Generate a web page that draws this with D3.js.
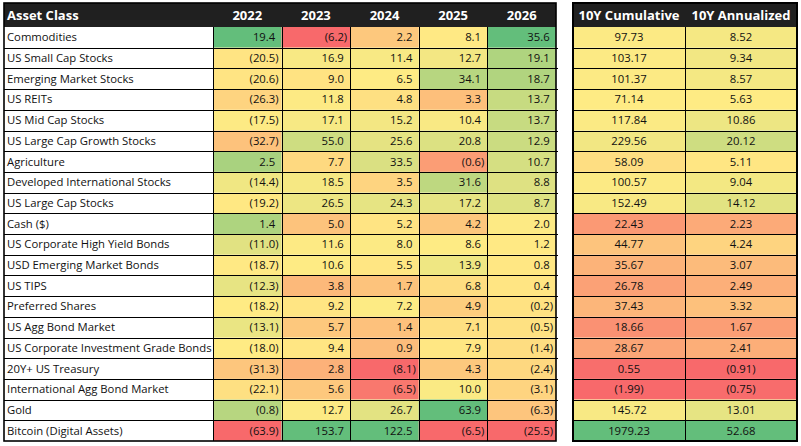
<!DOCTYPE html>
<html>
<head>
<meta charset="utf-8">
<script src="https://cdn.jsdelivr.net/npm/d3@7"></script>
<style>
body { margin: 0; background: #fff; }
svg { display: block; font-family: "Open Sans", sans-serif; }
</style>
</head>
<body>
<div id="chart"></div>
<script>
// -------------------- DATA ---------------------
const assetClasses = [
	"Commodities",
	"US Small Cap Stocks",
	"Emerging Market Stocks",
	"US REITs",
	"US Mid Cap Stocks",
	"US Large Cap Growth Stocks",
	"Agriculture",
	"Developed International Stocks",
	"US Large Cap Stocks",
	"Cash ($)",
	"US Corporate High Yield Bonds",
	"USD Emerging Market Bonds",
	"US TIPS",
	"Preferred Shares",
	"US Agg Bond Market",
	"US Corporate Investment Grade Bonds",
	"20Y+ US Treasury",
	"International Agg Bond Market",
	"Gold",
	"Bitcoin (Digital Assets)",
];
const yearLabels = ["2022", "2023", "2024", "2025", "2026"];
const summaryLabels = ["10Y Cumulative", "10Y Annualized"];

const r2022 = [19.4, -20.5, -20.6, -26.3, -17.5, -32.7, 2.5, -14.4, -19.2, 1.4, -11.0, -18.7, -12.3, -18.2, -13.1, -18.0, -31.3, -22.1, -0.8, -63.9];
const r2023 = [-6.2, 16.9, 9.0, 11.8, 17.1, 55.0, 7.7, 18.5, 26.5, 5.0, 11.6, 10.6, 3.8, 9.2, 5.7, 9.4, 2.8, 5.6, 12.7, 153.7];
const r2024 = [2.2, 11.4, 6.5, 4.8, 15.2, 25.6, 33.5, 3.5, 24.3, 5.2, 8.0, 5.5, 1.7, 7.2, 1.4, 0.9, -8.1, -6.5, 26.7, 122.5];
const r2025 = [8.1, 12.7, 34.1, 3.3, 10.4, 20.8, -0.6, 31.6, 17.2, 4.2, 8.6, 13.9, 6.8, 4.9, 7.1, 7.9, 4.3, 10.0, 63.9, -6.5];
const r2026 = [35.6, 19.1, 18.7, 13.7, 13.7, 12.9, 10.7, 8.8, 8.7, 2.0, 1.2, 0.8, 0.4, -0.2, -0.5, -1.4, -2.4, -3.1, -6.3, -25.5];
const cumulative10Y = [97.73, 103.17, 101.37, 71.14, 117.84, 229.56, 58.09, 100.57, 152.49, 22.43, 44.77, 35.67, 26.78, 37.43, 18.66, 28.67, 0.55, -1.99, 145.72, 1979.23];
const annualized10Y = [8.52, 9.34, 8.57, 5.63, 10.86, 20.12, 5.11, 9.04, 14.12, 2.23, 4.24, 3.07, 2.49, 3.32, 1.67, 2.41, -0.91, -0.75, 13.01, 52.68];

const yearCols = [r2022, r2023, r2024, r2025, r2026];
const summaryCols = [cumulative10Y, annualized10Y];

// -------------------- SETUP ---------------------
const size = { w: 801, h: 446 };
const svg = d3
	.select("#chart")
	.append("svg")
	.attr("width", size.w)
	.attr("height", size.h);

const headTop = 3;
const headBottom = 27;
const tableBottom = 441;
const leftX = 4;
const nameRight = 213;
const headSize = 13;
const cellSize = 11.3;

const y = d3
	.scaleBand()
	.domain(d3.range(assetClasses.length))
	.range([headBottom, tableBottom]);
const xYear = d3.scaleBand().domain(yearLabels).range([nameRight, 556]);
const xSum = d3.scaleBand().domain(summaryLabels).range([573, 797]);

// excel style 3 colour scale: min red, median yellow, max green
function heat(values) {
	const [lo, hi] = d3.extent(values);
	return d3
		.scaleLinear()
		.domain([lo, d3.quantile(values, 0.5), hi])
		.range(["#F8696B", "#FFEB84", "#63BE7B"]);
}

const fmt1 = d3.format(".1f");
const fmt2 = d3.format(".2f");

// -------------------- LEFT TABLE ---------------------
const leftG = svg.append("g").classed("left-table", true);

leftG
	.append("rect")
	.attr("x", leftX)
	.attr("y", headTop)
	.attr("width", 556 - leftX)
	.attr("height", headBottom - headTop)
	.attr("fill", "#202020");

leftG
	.append("text")
	.attr("x", leftX + 3)
	.attr("y", (headTop + headBottom) / 2 + 4.5)
	.attr("fill", "#fff")
	.attr("font-weight", "bold")
	.attr("font-size", headSize)
	.text("Asset Class");

leftG
	.selectAll("text.year-head")
	.data(yearLabels)
	.join("text")
	.classed("year-head", true)
	.attr("x", (d) => xYear(d) + xYear.bandwidth() / 2)
	.attr("y", (headTop + headBottom) / 2 + 4.5)
	.attr("text-anchor", "middle")
	.attr("fill", "#fff")
	.attr("font-weight", "bold")
	.attr("font-size", headSize)
	.text((d) => d);

// names
leftG
	.selectAll("text.name")
	.data(assetClasses)
	.join("text")
	.classed("name", true)
	.attr("x", leftX + 3)
	.attr("y", (d, i) => y(i) + y.bandwidth() / 2 + 4)
	.attr("font-size", cellSize)
	.attr("fill", "#111")
	.text((d) => d);

// year cells
yearCols.forEach((values, c) => {
	const color = heat(values);
	const x0 = xYear(yearLabels[c]);
	const cells = leftG
		.append("g")
		.selectAll("g")
		.data(values)
		.join("g");
	cells
		.append("rect")
		.attr("x", x0)
		.attr("y", (d, i) => y(i))
		.attr("width", xYear.bandwidth())
		.attr("height", y.bandwidth())
		.attr("fill", (d) => color(d));
	const label = cells
		.append("text")
		.attr("x", x0 + xYear.bandwidth() - 3)
		.attr("y", (d, i) => y(i) + y.bandwidth() / 2 + 4)
		.attr("text-anchor", "end")
		.attr("font-size", cellSize)
		.attr("fill", "#111");
	label.append("tspan").text((d) => (d < 0 ? "(" + fmt1(-d) : fmt1(d)));
	// accounting style: keep room for the ")" on positive numbers
	label
		.append("tspan")
		.attr("fill-opacity", (d) => (d < 0 ? 1 : 0))
		.text(")");
});

// grid
leftG
	.selectAll("line.row")
	.data(d3.range(1, assetClasses.length))
	.join("line")
	.classed("row", true)
	.attr("x1", leftX)
	.attr("x2", 558)
	.attr("y1", (d) => Math.round(y(d)) + 0.5)
	.attr("y2", (d) => Math.round(y(d)) + 0.5)
	.attr("stroke", "#000");

leftG
	.selectAll("line.col")
	.data([nameRight].concat(yearLabels.slice(1).map((d) => xYear(d))))
	.join("line")
	.classed("col", true)
	.attr("x1", (d) => Math.round(d) + 0.5)
	.attr("x2", (d) => Math.round(d) + 0.5)
	.attr("y1", headBottom)
	.attr("y2", tableBottom)
	.attr("stroke", "#000");

leftG
	.append("rect")
	.attr("x", leftX)
	.attr("y", headTop)
	.attr("width", 556 - leftX)
	.attr("height", tableBottom - headTop)
	.attr("fill", "none")
	.attr("stroke", "#000")
	.attr("stroke-width", 1.6);

// -------------------- RIGHT TABLE ---------------------
const rightG = svg.append("g").classed("right-table", true);

rightG
	.append("rect")
	.attr("x", 573)
	.attr("y", headTop)
	.attr("width", 797 - 573)
	.attr("height", headBottom - headTop)
	.attr("fill", "#202020");

rightG
	.selectAll("text.sum-head")
	.data(summaryLabels)
	.join("text")
	.classed("sum-head", true)
	.attr("x", (d) => xSum(d) + xSum.bandwidth() / 2)
	.attr("y", (headTop + headBottom) / 2 + 4.5)
	.attr("text-anchor", "middle")
	.attr("fill", "#fff")
	.attr("font-weight", "bold")
	.attr("font-size", headSize)
	.text((d) => d);

summaryCols.forEach((values, c) => {
	const color = heat(values);
	const x0 = xSum(summaryLabels[c]);
	const cells = rightG
		.append("g")
		.selectAll("g")
		.data(values)
		.join("g");
	cells
		.append("rect")
		.attr("x", x0)
		.attr("y", (d, i) => y(i))
		.attr("width", xSum.bandwidth())
		.attr("height", y.bandwidth())
		.attr("fill", (d) => color(d));
	cells
		.append("text")
		.attr("x", x0 + xSum.bandwidth() / 2)
		.attr("y", (d, i) => y(i) + y.bandwidth() / 2 + 4)
		.attr("text-anchor", "middle")
		.attr("font-size", cellSize)
		.attr("fill", "#111")
		.text((d) => (d < 0 ? "(" + fmt2(-d) + ")" : fmt2(d)));
});

rightG
	.selectAll("line.row")
	.data(d3.range(1, assetClasses.length))
	.join("line")
	.classed("row", true)
	.attr("x1", 573)
	.attr("x2", 797)
	.attr("y1", (d) => Math.round(y(d)) + 0.5)
	.attr("y2", (d) => Math.round(y(d)) + 0.5)
	.attr("stroke", "#000");

rightG
	.append("line")
	.attr("x1", Math.round(xSum(summaryLabels[1])) + 0.5)
	.attr("x2", Math.round(xSum(summaryLabels[1])) + 0.5)
	.attr("y1", headBottom)
	.attr("y2", tableBottom)
	.attr("stroke", "#000");

rightG
	.append("rect")
	.attr("x", 573)
	.attr("y", headTop)
	.attr("width", 797 - 573)
	.attr("height", tableBottom - headTop)
	.attr("fill", "none")
	.attr("stroke", "#000")
	.attr("stroke-width", 2);
</script>
</body>
</html>
